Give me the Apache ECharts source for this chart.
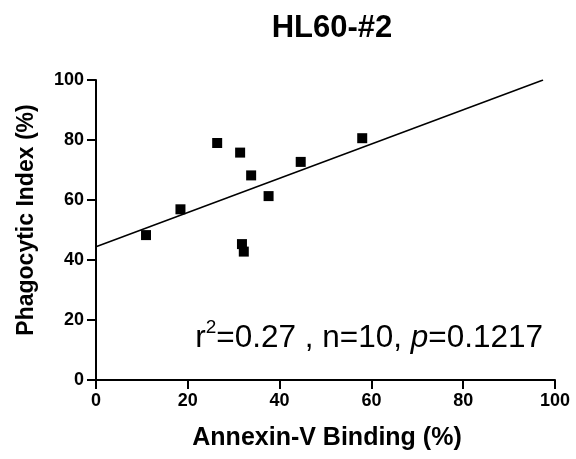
<!DOCTYPE html>
<html>
<head>
<meta charset="utf-8">
<script src="https://cdn.jsdelivr.net/npm/echarts@6/dist/echarts.min.js"></script>
<style>html,body{margin:0;padding:0;background:#fff;}#c{width:576px;height:459px;}</style>
</head>
<body>
<div id="c"></div>
<script>
var annexin = [10.9, 18.4, 26.4, 31.4, 31.8, 32.2, 33.8, 37.6, 44.6, 58.0];
var phago   = [48.3, 56.9, 79.0, 75.8, 45.3, 42.8, 68.2, 61.3, 72.7, 80.6];
var fitX = [0, 97.4];
var fitY = [44.4, 100];
var xTicks = [0, 20, 40, 60, 80, 100];
var yTicks = [0, 20, 40, 60, 80, 100];

var font = 'Liberation Sans, Arial, Helvetica, sans-serif';
var chart = echarts.init(document.getElementById('c'));
var axisCommon = {
  min: 0, max: 100, interval: 20,
  axisLine: {show: true, onZero: false, lineStyle: {color: '#000', width: 2}},
  axisTick: {show: true, inside: false, length: 9, lineStyle: {color: '#000', width: 2}},
  axisLabel: {color: '#000', fontFamily: font, fontWeight: 'bold', fontSize: 18, margin: 12},
  splitLine: {show: false}
};
chart.setOption({
  animation: false,
  backgroundColor: '#fff',
  grid: {left: 96, right: 21, top: 80, bottom: 79, containLabel: false},
  xAxis: Object.assign({}, axisCommon, {
    type: 'value',
    axisLabel: Object.assign({}, axisCommon.axisLabel, {formatter: function(v){ return xTicks.indexOf(v) >= 0 ? String(v) : ''; }})
  }),
  yAxis: Object.assign({}, axisCommon, {
    type: 'value',
    axisLabel: Object.assign({}, axisCommon.axisLabel, {formatter: function(v){ return yTicks.indexOf(v) >= 0 ? String(v) : ''; }})
  }),
  series: [
    {
      type: 'scatter', symbol: 'rect', symbolSize: 10,
      itemStyle: {color: '#000', opacity: 1},
      data: annexin.map(function(x, i){ return [x, phago[i]]; }),
      z: 3
    },
    {
      type: 'line', showSymbol: false, symbol: 'none',
      lineStyle: {color: '#000', width: 1.5},
      data: fitX.map(function(x, i){ return [x, fitY[i]]; }),
      z: 2
    }
  ],
  graphic: [
    {
      type: 'text', x: 332, y: 28,
      style: {text: 'HL60-#2', font: 'bold 31px ' + font, fill: '#000', textAlign: 'center', textVerticalAlign: 'middle'}
    },
    {
      type: 'text', x: 327, y: 438,
      style: {text: 'Annexin-V Binding (%)', font: 'bold 25px ' + font, fill: '#000', textAlign: 'center', textVerticalAlign: 'middle'}
    },
    {
      type: 'text', x: 27, y: 220, rotation: Math.PI / 2,
      style: {text: 'Phagocytic Index (%)', font: 'bold 23px ' + font, fill: '#000', textAlign: 'center', textVerticalAlign: 'middle'}
    },
    {
      type: 'text', right: 33, top: 318,
      style: {
        text: '{a|r}{s|2}{a|=0.27 , n=10, }{i|p}{a|=0.1217}',
        rich: {
          a: {fontFamily: font, fontSize: 31.5, color: '#000', lineHeight: 36, verticalAlign: 'bottom'},
          s: {fontFamily: font, fontSize: 19, color: '#000', lineHeight: 36, verticalAlign: 'top'},
          i: {fontFamily: font, fontSize: 31.5, fontStyle: 'italic', color: '#000', lineHeight: 36, verticalAlign: 'bottom'}
        }
      }
    }
  ]
});
</script>
</body>
</html>
